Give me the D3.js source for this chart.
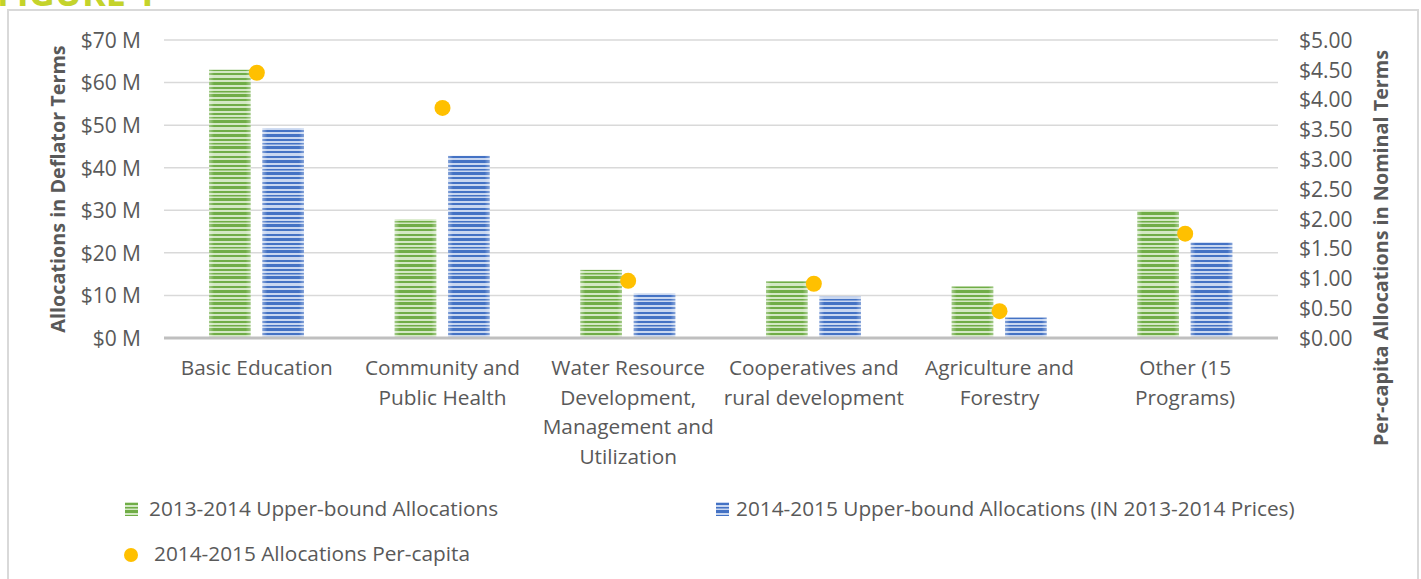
<!DOCTYPE html>
<html>
<head>
<meta charset="utf-8">
<script src="https://cdn.jsdelivr.net/npm/d3@7"></script>
<style>
  body { margin: 0; background: #fff; }
  svg text { font-family: "Open Sans", sans-serif; fill: #595959; }
</style>
</head>
<body>
<svg id="chart" width="1421" height="579"></svg>
<script>
// chart values
var categories = ['Basic Education', 'Community and Public Health', 'Water Resource Development, Management and Utilization',
  'Cooperatives and rural development', 'Agriculture and Forestry', 'Other (15 Programs)'];
var categoryLines = [
  ['Basic Education'],
  ['Community and', 'Public Health'],
  ['Water Resource', 'Development,', 'Management and', 'Utilization'],
  ['Cooperatives and', 'rural development'],
  ['Agriculture and', 'Forestry'],
  ['Other (15', 'Programs)']
];
var alloc2013 = [63.0, 27.9, 16.0, 13.3, 12.1, 30.0];      // $ M
var alloc2014 = [49.3, 42.8, 10.5, 9.7, 4.8, 22.5];        // $ M (2013-14 prices)
var perCapita = [4.45, 3.86, 0.96, 0.91, 0.45, 1.75];      // $
var leftTicks = [0, 10, 20, 30, 40, 50, 60, 70];
var rightTicks = [0, 0.5, 1, 1.5, 2, 2.5, 3, 3.5, 4, 4.5, 5];
var seriesNames = ['2013-2014 Upper-bound Allocations',
  '2014-2015 Upper-bound Allocations (IN 2013-2014 Prices)',
  '2014-2015 Allocations Per-capita'];

(function(){
var svg = d3.select('#chart');
var plotLeft = 164, plotRight = 1278, plotTop = 40, plotBottom = 338;
var fontSize = '20.8px';
var tickSize = '21px';

var x0 = d3.scaleBand().domain(categories).range([plotLeft, plotRight]);
var x1 = d3.scaleBand().domain([0, 1]).range([45, 140]).paddingInner(0.22);
var yL = d3.scaleLinear().domain([0, 70]).range([plotBottom, plotTop]);
var yR = d3.scaleLinear().domain([0, 5]).range([plotBottom, plotTop]);

var defs = svg.append('defs');

// striped fills
function stripes(id, dark, light, rows){
  var p = defs.append('pattern')
    .attr('id', id)
    .attr('patternUnits', 'userSpaceOnUse')
    .attr('width', 10).attr('height', 26);
  p.append('rect').attr('width', 10).attr('height', 26).attr('fill', light);
  rows.forEach(function(r){
    p.append('rect').attr('y', r[0]).attr('width', 10).attr('height', r[1]).attr('fill', dark);
  });
}
var rows = [[0, 2], [4, 3], [9, 2], [13, 1.5], [16, 3], [21, 2]];
stripes('greenStripes', '#70ad47', '#d3e8c4', rows);
stripes('blueStripes', '#4472c4', '#c9d7f0', rows);

var edge = defs.append('linearGradient').attr('id', 'edge')
  .attr('x1', 0).attr('x2', 1).attr('y1', 0).attr('y2', 0);
edge.append('stop').attr('offset', '0%').attr('stop-color', '#fff').attr('stop-opacity', 0.35);
edge.append('stop').attr('offset', '12%').attr('stop-color', '#fff').attr('stop-opacity', 0);
edge.append('stop').attr('offset', '88%').attr('stop-color', '#fff').attr('stop-opacity', 0);
edge.append('stop').attr('offset', '100%').attr('stop-color', '#fff').attr('stop-opacity', 0.35);

// figure title, cut off at the top
svg.append('text')
  .attr('x', -3).attr('y', 6)
  .style('font-size', '36px').style('font-weight', 'bold')
  .style('fill', '#c4d32b')
  .text('FIGURE 1');

// chart border
svg.append('rect')
  .attr('x', 8).attr('y', 10).attr('width', 1410).attr('height', 600)
  .attr('fill', 'none').attr('stroke', '#d9d9d9').attr('stroke-width', 2);

// gridlines
svg.append('g').selectAll('line')
  .data(leftTicks.slice(1))
  .enter().append('line')
  .attr('x1', plotLeft).attr('x2', plotRight)
  .attr('y1', function(d){ return yL(d); })
  .attr('y2', function(d){ return yL(d); })
  .attr('stroke', '#d9d9d9').attr('stroke-width', 1.5);

// left axis
var axL = svg.append('g')
  .attr('transform', 'translate(' + (plotLeft - 23) + ',0)')
  .call(d3.axisLeft(yL).tickValues(leftTicks).tickSize(0).tickPadding(0)
    .tickFormat(function(d){ return '$' + d + ' M'; }));
axL.select('.domain').remove();
axL.selectAll('text').style('font-size', tickSize).style('font-family', '"Open Sans", sans-serif').attr('fill', '#595959').attr('dy', '0.35em');

// right axis
var axR = svg.append('g')
  .attr('transform', 'translate(' + (plotRight + 21) + ',0)')
  .call(d3.axisRight(yR).tickValues(rightTicks).tickSize(0).tickPadding(0)
    .tickFormat(function(d){ return '$' + d3.format('.2f')(d); }));
axR.select('.domain').remove();
axR.selectAll('text').style('font-size', tickSize).style('font-family', '"Open Sans", sans-serif').attr('fill', '#595959').attr('dy', '0.35em');

// axis titles
svg.append('text')
  .attr('transform', 'translate(65,' + ((plotTop + plotBottom) / 2) + ') rotate(-90)')
  .attr('text-anchor', 'middle')
  .style('font-size', '19.8px').style('font-weight', 'bold')
  .text('Allocations in Deflator Terms');
svg.append('text')
  .attr('transform', 'translate(1388,248) rotate(-90)')
  .attr('text-anchor', 'middle')
  .style('font-size', '19.8px').style('font-weight', 'bold')
  .text('Per-capita Allocations in Nominal Terms');

// bars
var groups = svg.append('g').selectAll('g')
  .data(categories)
  .enter().append('g')
  .attr('transform', function(d){ return 'translate(' + x0(d) + ',0)'; });

[alloc2013, alloc2014].forEach(function(vals, s){
  var fill = s === 0 ? 'url(#greenStripes)' : 'url(#blueStripes)';
  groups.append('rect')
    .attr('x', x1(s))
    .attr('y', function(d, i){ return yL(vals[i]); })
    .attr('width', x1.bandwidth())
    .attr('height', function(d, i){ return plotBottom - yL(vals[i]); })
    .attr('fill', fill);
  groups.append('rect')
    .attr('x', x1(s))
    .attr('y', function(d, i){ return yL(vals[i]); })
    .attr('width', x1.bandwidth())
    .attr('height', function(d, i){ return plotBottom - yL(vals[i]); })
    .attr('fill', 'url(#edge)');
});

// baseline
svg.append('line')
  .attr('x1', plotLeft).attr('x2', plotRight)
  .attr('y1', plotBottom).attr('y2', plotBottom)
  .attr('stroke', '#bfbfbf').attr('stroke-width', 3);

// per-capita dots
svg.append('g').selectAll('circle')
  .data(perCapita)
  .enter().append('circle')
  .attr('cx', function(d, i){ return x0(categories[i]) + x0.bandwidth() / 2; })
  .attr('cy', function(d){ return yR(d); })
  .attr('r', 8)
  .attr('fill', '#ffc000');

// category labels
var lab = svg.append('g').selectAll('text')
  .data(categories)
  .enter().append('text')
  .attr('text-anchor', 'middle')
  .style('font-size', fontSize)
  .attr('x', function(d){ return x0(d) + x0.bandwidth() / 2; })
  .attr('y', 375);
lab.selectAll('tspan')
  .data(function(d, i){ return categoryLines[i]; })
  .enter().append('tspan')
  .attr('x', function(){ return this.parentNode.getAttribute('x'); })
  .attr('dy', function(d, i){ return i === 0 ? 0 : 29.5; })
  .text(function(d){ return d; });

// legend
var legend = svg.append('g');
legend.append('rect').attr('x', 125).attr('y', 502).attr('width', 13).attr('height', 14).attr('fill', 'url(#greenStripes)');
legend.append('text').attr('x', 149).attr('y', 516).style('font-size', fontSize).text(seriesNames[0]);
legend.append('rect').attr('x', 716).attr('y', 502).attr('width', 13).attr('height', 14).attr('fill', 'url(#blueStripes)');
legend.append('text').attr('x', 736).attr('y', 516).style('font-size', fontSize).text(seriesNames[1]);
legend.append('circle').attr('cx', 131).attr('cy', 555).attr('r', 7).attr('fill', '#ffc000');
legend.append('text').attr('x', 154).attr('y', 561).style('font-size', fontSize).text(seriesNames[2]);
})();
</script>
</body>
</html>
